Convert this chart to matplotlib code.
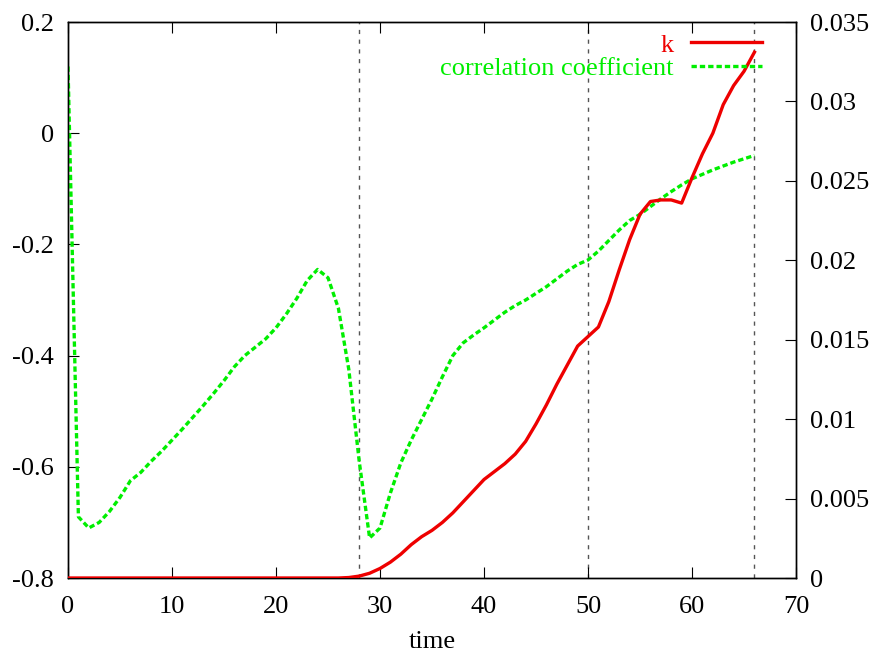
import matplotlib
matplotlib.use("Agg")
import matplotlib.pyplot as plt
from matplotlib.lines import Line2D

plt.rcParams['font.family'] = ['Liberation Serif', 'DejaVu Serif']

# time steps
time = list(range(0, 67))

# k (right axis)
k = [0.0] * 27 + [
    0.00003, 0.00012, 0.0003, 0.0006, 0.001, 0.0015, 0.0021, 0.0026, 0.003, 0.0035,
    0.0041, 0.0048, 0.0055, 0.0062, 0.0067, 0.0072, 0.0078, 0.0086, 0.0097, 0.0109,
    0.0122, 0.0134, 0.0146, 0.0152, 0.0158, 0.0174, 0.0194, 0.0213, 0.0229, 0.0237,
    0.0238, 0.0238, 0.0236, 0.0252, 0.0267, 0.0280, 0.0298, 0.0310, 0.0319, 0.0331,
]

# correlation coefficient (left axis)
corr = [
    0.12, -0.69, -0.71, -0.70, -0.68, -0.655, -0.625, -0.61, -0.59, -0.572,
    -0.552, -0.532, -0.511, -0.49, -0.468, -0.445, -0.42, -0.40, -0.385, -0.37,
    -0.35, -0.325, -0.297, -0.265, -0.245, -0.26, -0.315, -0.425, -0.59, -0.728,
    -0.71, -0.647, -0.593, -0.552, -0.515, -0.478, -0.438, -0.40, -0.377, -0.363,
    -0.35, -0.336, -0.322, -0.31, -0.30, -0.288, -0.276, -0.262, -0.248, -0.236,
    -0.228, -0.212, -0.193, -0.174, -0.157, -0.146, -0.132, -0.118, -0.105, -0.093,
    -0.082, -0.074, -0.066, -0.059, -0.052, -0.046, -0.04,
]

vlines = [28, 50, 66]

FS = 19

fig = plt.figure(figsize=(8.74, 6.59), dpi=100)
ax = fig.add_axes([0.0778, 0.1229, 0.8330, 0.8437])
ax2 = ax.twinx()

for v in vlines:
    ax.axvline(v, color='#555555', lw=1.0, ls=(0, (3, 4)), zorder=1)

ax.plot(time, corr, color='#00ee00', lw=2.4, ls=(0, (1.6, 0.9)), zorder=3)
ax2.plot(time, k, color='#ee0000', lw=2.4, zorder=3)

ax.set_xlim(0, 70)
ax.set_ylim(-0.8, 0.2)
ax2.set_ylim(0, 0.035)
ax.set_xticks(range(0, 71, 10))
ax.set_yticks([-0.8, -0.6, -0.4, -0.2, 0, 0.2])
ax.set_yticklabels(['-0.8', '-0.6', '-0.4', '-0.2', '0', '0.2'])
ax2.set_yticks([0, 0.005, 0.01, 0.015, 0.02, 0.025, 0.03, 0.035])
ax2.set_yticklabels(['0', '0.005', '0.01', '0.015', '0.02', '0.025', '0.03', '0.035'])

ax.tick_params(axis='x', direction='in', length=8, top=True, labelsize=FS, pad=13)
ax.tick_params(axis='y', direction='in', length=8, labelsize=FS, pad=10)
ax2.tick_params(axis='y', direction='in', length=8, labelsize=FS, pad=10)
for a in (ax, ax2):
    for s in a.spines.values():
        s.set_linewidth(1.0)

ax.set_xlabel('time', fontsize=FS, labelpad=9)

handles = [
    Line2D([], [], color='#ee0000', lw=2.4),
    Line2D([], [], color='#00ee00', lw=2.4, ls=(0, (1.6, 0.9))),
]
leg = ax2.legend(handles, ['k', 'correlation coefficient'], loc='upper right',
                 frameon=False, markerfirst=False, fontsize=FS, handlelength=2.7,
                 labelspacing=0.0, borderaxespad=0.0, handletextpad=0.65,
                 bbox_to_anchor=(0.968, 0.999))
for txt, h in zip(leg.get_texts(), handles):
    txt.set_color(h.get_color())

fig.savefig('out.png', dpi=100)
